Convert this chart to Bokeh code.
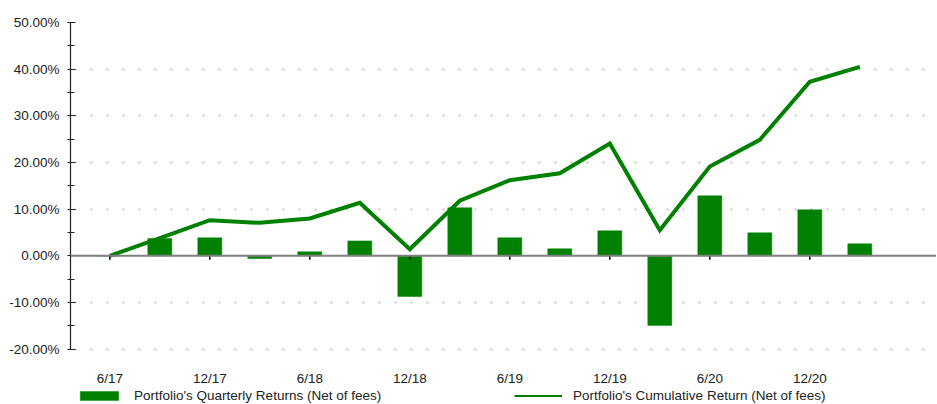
import math
from bokeh.plotting import figure
from bokeh.models import (Range1d, FixedTicker, PrintfTickFormatter, Span, Legend, LegendItem,
                          ColumnDataSource)
from bokeh.core.properties import value
from bokeh.embed import file_html
from bokeh.resources import INLINE

quarters = ["6/17", "9/17", "12/17", "3/18", "6/18", "9/18", "12/18", "3/19",
            "6/19", "9/19", "12/19", "3/20", "6/20", "9/20", "12/20", "3/21"]
quarterly = [0.0, 3.7, 3.86, -0.57, 0.86, 3.2, -8.7, 10.3,
             3.86, 1.5, 5.36, -14.9, 12.86, 4.93, 9.86, 2.57]
cumulative = [0.0, 3.8, 7.64, 7.07, 8.0, 11.36, 1.43, 11.8,
              16.2, 17.7, 24.07, 5.5, 19.14, 24.86, 37.3, 40.5]
labeled = ["6/17", "12/17", "6/18", "12/18", "6/19", "12/19", "6/20", "12/20"]
y_ticks = [-20, -10, 0, 10, 20, 30, 40, 50]
y_minor = [-15, -5, 5, 15, 25, 35, 45]

GREEN = "#008000"
FONT = "Liberation Sans"
FS = "13.5px"

x_idx = list(range(len(quarters)))
src = ColumnDataSource(dict(x=x_idx, q=quarterly, c=cumulative))
tick_idx = [quarters.index(l) for l in labeled]
y_lo, y_hi = min(y_ticks), max(y_ticks)

p = figure(width=936, height=403, output_backend="svg", toolbar_location=None,
           x_axis_type=None,
           x_range=Range1d(-0.786, 16.534), y_range=Range1d(-31.64, y_hi),
           min_border_left=70, min_border_top=22, min_border_right=0, min_border_bottom=0)
p.outline_line_color = None
p.background_fill_color = "white"
p.border_fill_color = "white"

# grids
p.xgrid.visible = False
p.ygrid.ticker = FixedTicker(ticks=[t for t in y_ticks if t != 0])
p.ygrid.grid_line_color = "#c8c8c8"
p.ygrid.grid_line_width = 2
p.ygrid.grid_line_dash = "2 14"
p.ygrid.grid_line_dash_offset = 12

# y axis
p.yaxis.ticker = FixedTicker(ticks=y_ticks, minor_ticks=y_minor)
p.yaxis.bounds = (y_lo, y_hi)
p.yaxis.formatter = PrintfTickFormatter(format="%.2f%%")
p.yaxis.axis_line_color = "#222222"
p.yaxis.axis_line_width = 1.2
p.yaxis.major_tick_line_color = "#222222"
p.yaxis.minor_tick_line_color = "#222222"
p.yaxis.major_tick_out = 3
p.yaxis.major_tick_in = 5
p.yaxis.minor_tick_out = 3
p.yaxis.minor_tick_in = 4
p.yaxis.major_label_text_font = FONT
p.yaxis.major_label_text_font_size = FS
p.yaxis.major_label_text_color = "#222222"
p.yaxis.major_label_standoff = 8

# zero line
p.add_layout(Span(location=0, dimension="width", line_color="#808080", line_width=2))

bars = p.vbar(x="x", top="q", bottom=0, width=0.48, source=src,
              fill_color=GREEN, line_color=GREEN, line_width=0.5)
# thinner copy (hidden under the main line) used for the legend swatch
ln_proxy = p.line(x="x", y="c", source=src, line_color=GREEN, line_width=2)
ln = p.line(x="x", y="c", source=src, line_color=GREEN, line_width=4, line_join="miter")

# small category ticks under the zero line
p.ray(x=tick_idx, y=[0] * len(tick_idx), length=4, length_units="screen",
      angle=-math.pi / 2, line_color="black", line_width=1.5)

# category labels below the plot area
p.text(x=tick_idx, y=[y_lo] * len(tick_idx), text=labeled, y_offset=29,
       text_align="center", text_baseline="middle",
       text_font=value(FONT), text_font_size=FS, text_color="#222222")

common = dict(orientation="horizontal", glyph_width=48, glyph_height=11, label_standoff=11,
              label_text_font=FONT, label_text_font_size=FS, label_text_color="#222222",
              border_line_color=None, background_fill_alpha=0, padding=0, margin=0,
              label_height=15)
leg1 = Legend(items=[LegendItem(label="Portfolio's Quarterly Returns (Net of fees)", renderers=[bars])],
              location=(5, 0), **common)
leg2 = Legend(items=[LegendItem(label="Portfolio's Cumulative Return (Net of fees)", renderers=[ln_proxy])],
              location=(444, 0), **common)
p.add_layout(leg1)
p.add_layout(leg2)

open("out.html", "w").write(file_html(p, INLINE))
